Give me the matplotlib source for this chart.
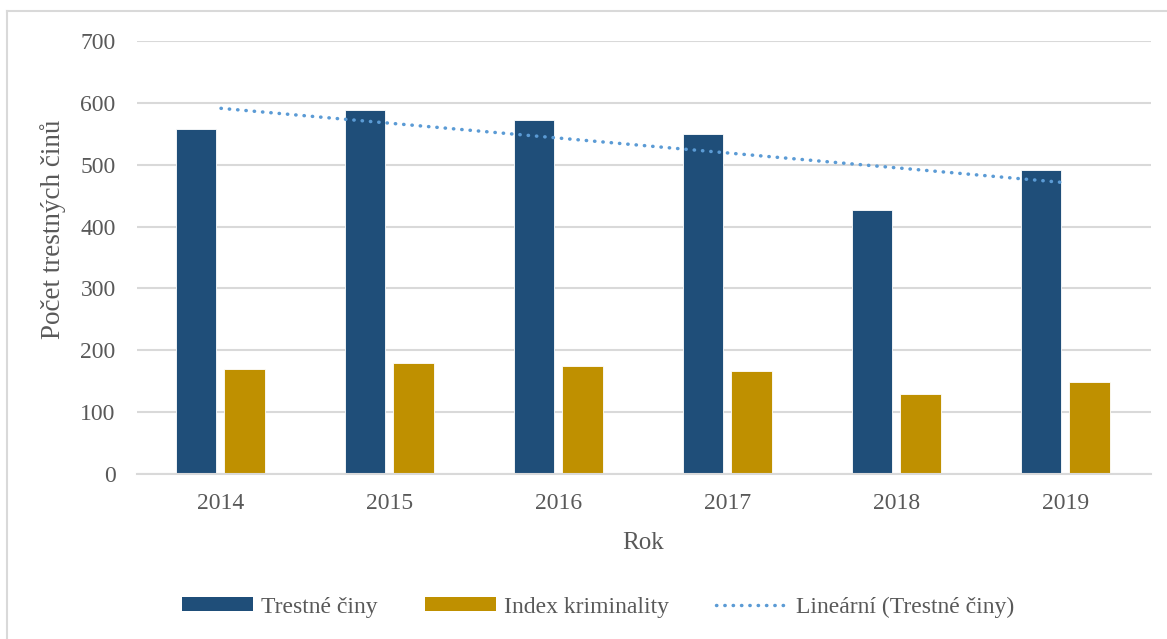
import matplotlib
matplotlib.use("Agg")
import matplotlib.pyplot as plt
import numpy as np
from matplotlib.lines import Line2D
from matplotlib.patches import Patch

years = ["2014", "2015", "2016", "2017", "2018", "2019"]
trestne_ciny = [557, 589, 573, 550, 426, 491]
index_kriminality = [169, 179, 174, 167, 130, 149]
y_ticks = [0, 100, 200, 300, 400, 500, 600, 700]

BLUE = "#1f4e79"
GOLD = "#bf9000"
TREND = "#5b9bd5"
TXT = "#595959"
GRID = "#d9d9d9"

plt.rcParams['font.family'] = ['Liberation Serif', 'DejaVu Serif']

fig = plt.figure(figsize=(11.67, 6.39), dpi=100)
ax = fig.add_axes([136.5/1167, 1-474/639, 1014/1167, 433/639])

x = np.arange(len(years))
w = 0.237
ax.bar(x - 0.148, trestne_ciny, width=w, color=BLUE, edgecolor="white", linewidth=0.6, zorder=2)
ax.bar(x + 0.139, index_kriminality, width=w, color=GOLD, edgecolor="white", linewidth=0.6, zorder=2)

DOT = (0, (0.1, 2.3))
coef = np.polyfit(x, trestne_ciny, 1)
trend = np.polyval(coef, x)
ax.plot(x, trend, color=TREND, linewidth=2.5, linestyle=DOT,
        dash_capstyle='round', zorder=3)

ax.set_xlim(-0.5, len(years) - 0.5)
ax.set_ylim(0, 700)
ax.set_yticks(y_ticks)
ax.set_xticks(x)
ax.set_xticklabels(years)
ax.grid(axis='y', color=GRID, linewidth=1.5, zorder=0)
ax.set_axisbelow(True)
for s in ['top', 'right', 'left']:
    ax.spines[s].set_visible(False)
ax.spines['bottom'].set_color(GRID)
ax.spines['bottom'].set_linewidth(1.5)
ax.tick_params(axis='both', length=0, labelsize=17, labelcolor=TXT)
ax.tick_params(axis='y', pad=15)
ax.tick_params(axis='x', pad=14)

fig.text(643.5/1167, 1-543/639, "Rok", ha='center', va='center', fontsize=18, color=TXT)
fig.text(53/1167, 1-229/639, "Počet trestných činů", ha='center', va='center',
         rotation=90, fontsize=19.5, color=TXT)

handles = [
    Patch(facecolor=BLUE, edgecolor='none'),
    Patch(facecolor=GOLD, edgecolor='none'),
    Line2D([0], [0], color=TREND, linewidth=2.5, linestyle=DOT, dash_capstyle='round'),
]
labels = ["Trestné činy", "Index kriminality", "Lineární (Trestné činy)"]
leg = fig.legend(handles, labels, loc='center', bbox_to_anchor=(598/1167, 1-607/639),
                 ncol=3, frameon=False, fontsize=17, handlelength=3.0, handleheight=0.5,
                 handletextpad=0.35, columnspacing=2.0, labelcolor=TXT)

# outer chart border (top and left visible)
fig.add_artist(Line2D([7/1167, 1.0], [1-11/639, 1-11/639], color=GRID, linewidth=1.5,
                      transform=fig.transFigure))
fig.add_artist(Line2D([7/1167, 7/1167], [0.0, 1-11/639], color=GRID, linewidth=1.5,
                      transform=fig.transFigure))

fig.savefig("out.png", dpi=100)
